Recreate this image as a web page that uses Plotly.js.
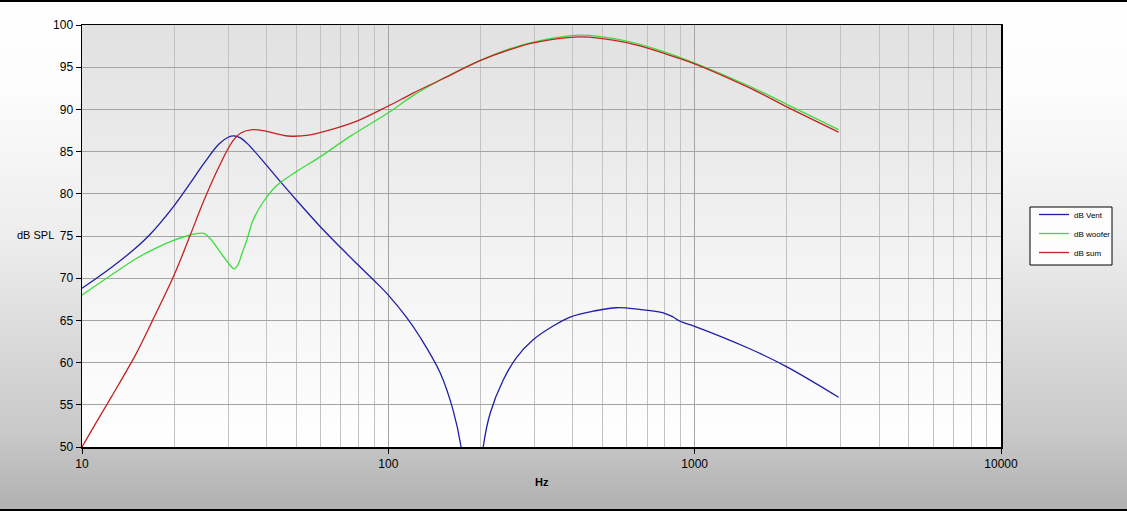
<!DOCTYPE html>
<html>
<head>
<meta charset="utf-8">
<script src="https://cdn.plot.ly/plotly-3.0.1.min.js"></script>
<style>
  html, body { margin: 0; padding: 0; }
  #wrap { position: relative; width: 1127px; height: 511px; overflow: hidden;
    background: linear-gradient(to bottom, #ffffff 0%, #fcfcfc 18%, #ececec 48%, #c8c8c8 85%, #b0b0b0 100%); }
  #plotbg { position: absolute; left: 82px; top: 25px; width: 919px; height: 422px;
    background: linear-gradient(to bottom, #e1e1e1 0%, #f3f3f3 55%, #ffffff 100%); }
  #chart { position: absolute; left: 0; top: 0; width: 1127px; height: 511px; }
  .hr { position: absolute; left: 0; width: 1127px; height: 2px; background: #000; }
</style>
</head>
<body>
<div id="wrap">
  <div id="plotbg"></div>
  <div id="chart"></div>
  <div class="hr" style="top:0"></div>
  <div class="hr" style="top:509px"></div>
</div>
<script>
// Vent output (dB SPL) vs frequency (Hz); null gap near 190 Hz
const ventFreq = [10, 12.5, 15, 16.7, 20, 22.5, 25, 28, 30, 31.5, 33, 35, 40, 45, 50, 60, 70, 80, 90, 100, 115, 127, 147.6, 162.6, 172.8, 180,
                  190,
                  198, 204, 215, 237, 262, 297, 344, 392, 467, 556, 660, 790, 850, 896, 1000, 1500, 2000, 2950];
const ventDb   = [68.8, 71.3, 73.6, 75.2, 78.6, 81.2, 83.6, 85.9, 86.7, 86.85, 86.6, 85.8, 83.4, 81.2, 79.3, 76.1, 73.6, 71.5, 69.7, 68.0, 65.3, 63.0, 58.8, 54.4, 50.0, 44.0,
                  null,
                  45.0, 50.0, 54.0, 57.9, 60.6, 62.7, 64.3, 65.4, 66.1, 66.5, 66.3, 65.9, 65.4, 64.9, 64.3, 61.7, 59.5, 55.9];

// Woofer output
const wooferFreq = [10, 12.5, 15, 17.5, 20, 22, 24, 25, 26.2, 28.9, 30.5, 31.4, 32.3, 33.2, 34.5, 36.2, 39, 43, 50, 60, 75, 100, 120, 150, 200, 250, 300, 420, 600, 800, 1000, 1500, 2000, 2950];
const wooferDb   = [68.0, 70.4, 72.3, 73.6, 74.5, 75.0, 75.3, 75.3, 74.7, 72.6, 71.5, 71.1, 71.6, 72.8, 74.5, 76.9, 79.0, 80.9, 82.6, 84.4, 86.8, 89.6, 91.6, 93.6, 95.8, 97.2, 98.0, 98.8, 98.1, 96.8, 95.5, 92.8, 90.6, 87.6];

// Sum
const sumFreq = [10, 11, 12.5, 15, 17, 20, 22.5, 25, 28, 31, 33, 36, 40, 47, 55, 65, 80, 100, 120, 150, 200, 250, 300, 420, 600, 800, 1000, 1500, 2000, 2950];
const sumDb   = [50.0, 52.6, 56.0, 61.0, 65.0, 70.4, 75.0, 79.2, 83.2, 86.2, 87.2, 87.6, 87.4, 86.85, 86.95, 87.6, 88.7, 90.4, 91.9, 93.6, 95.8, 97.1, 97.9, 98.6, 97.9, 96.6, 95.4, 92.6, 90.3, 87.3];

const seriesNames = ['dB Vent', 'dB woofer', 'dB sum'];
const xTickVals = [10, 100, 1000, 10000];
const xTickText = ['10', '100', '1000', '10000'];
const xMinorVals = [20,30,40,50,60,70,80,90,200,300,400,500,600,700,800,900,2000,3000,4000,5000,6000,7000,8000,9000];

const font = 'Liberation Sans, Arial, sans-serif';

const traces = [
  {x: ventFreq, y: ventDb, name: seriesNames[0], mode: 'lines', connectgaps: false,
   line: {color: '#1f1fa6', width: 1.3, shape: 'spline', smoothing: 1}},
  {x: wooferFreq, y: wooferDb, name: seriesNames[1], mode: 'lines',
   line: {color: '#3ddc3d', width: 1.3, shape: 'spline', smoothing: 1}},
  {x: sumFreq, y: sumDb, name: seriesNames[2], mode: 'lines',
   line: {color: '#c42222', width: 1.3, shape: 'spline', smoothing: 1}}
];

// legend frame position in pixels -> paper fraction of plot area
const plotL = 82, plotW = 919, plotT = 25, plotH = 422;
const px = v => (v - plotL) / plotW;
const py = v => 1 - (v - plotT) / plotH;

const layout = {
  width: 1127, height: 511,
  margin: {l: 82, r: 126, t: 25, b: 64},
  paper_bgcolor: 'rgba(0,0,0,0)',
  plot_bgcolor: 'rgba(0,0,0,0)',
  font: {family: font, size: 12, color: '#000'},
  showlegend: true,
  legend: {
    xref: 'container', yref: 'container',
    x: 1034/1127, y: 1 - 200/511, xanchor: 'left', yanchor: 'top',
    bgcolor: 'rgba(0,0,0,0)', borderwidth: 0,
    font: {family: font, size: 8, color: '#000'},
    itemwidth: 30, tracegroupgap: 0
  },
  shapes: [
    {type: 'rect', xref: 'paper', yref: 'paper', x0: px(1030), x1: px(1112), y0: py(265), y1: py(207),
     fillcolor: '#fdfdfd', line: {color: '#000', width: 1}, layer: 'below'}
  ],
  xaxis: {
    type: 'log', range: [1, 4],
    tickvals: xTickVals, ticktext: xTickText,
    ticks: 'outside', ticklen: 5, tickcolor: '#000', tickwidth: 1,
    showline: true, linecolor: '#000', linewidth: 1.5, mirror: true,
    showgrid: true, gridcolor: '#a4a4a4', gridwidth: 1,
    zeroline: false,
    minor: {tickvals: xMinorVals, showgrid: true, gridcolor: '#c2c2c2', gridwidth: 1, ticks: ''},
    tickfont: {family: font, size: 12, color: '#000'}
  },
  yaxis: {
    range: [50, 100], dtick: 5, tick0: 50,
    ticks: 'outside', ticklen: 5, tickcolor: '#000', tickwidth: 1,
    showline: true, linecolor: '#000', linewidth: 1.5, mirror: true,
    showgrid: true, gridcolor: '#a4a4a4', gridwidth: 1,
    zeroline: false,
    tickfont: {family: font, size: 12, color: '#000'}
  },
  annotations: [
    {text: 'dB SPL', xref: 'paper', yref: 'paper', x: px(35), y: py(235), xanchor: 'center', yanchor: 'middle',
     showarrow: false, font: {family: font, size: 11, color: '#000'}},
    {text: '<b>Hz</b>', xref: 'paper', yref: 'paper', x: 0.5, y: py(482), xanchor: 'center', yanchor: 'middle',
     showarrow: false, font: {family: font, size: 11, color: '#000'}}
  ]
};

Plotly.newPlot('chart', traces, layout, {displayModeBar: false, staticPlot: true});
</script>
</body>
</html>
